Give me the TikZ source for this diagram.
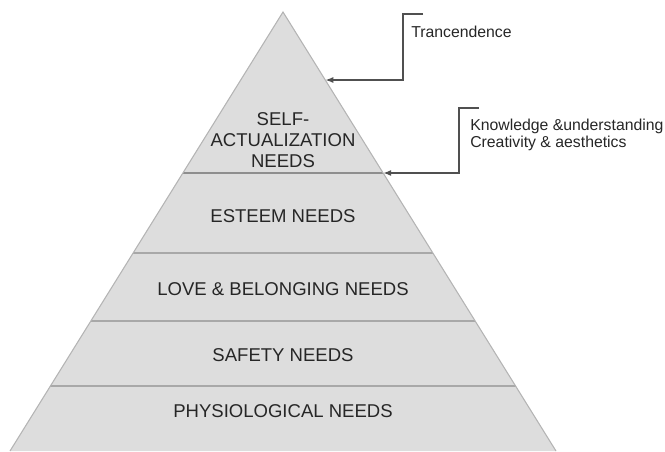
\documentclass[tikz,border=0pt]{standalone}
\usepackage{fontspec}
\setmainfont{Liberation Sans}
\usetikzlibrary{arrows.meta,calc}

\definecolor{pyrfill}{HTML}{DDDDDD}
\definecolor{pyredge}{HTML}{B4B4B4}
\definecolor{bandline}{HTML}{A8A8A8}
\definecolor{topline}{HTML}{8E8E8E}
\definecolor{noteline}{HTML}{505050}
\definecolor{inktext}{HTML}{262626}

\tikzset{
  level/.style={text=inktext, font=\fontsize{13.9}{15.75}\selectfont, align=center, inner sep=0pt},
  note/.style={text=inktext, font=\fontsize{11.85}{12.4}\selectfont, align=left, inner sep=0pt},
  bracket/.style={draw=noteline, line width=1.1pt, -{Latex[length=6pt,width=4.5pt]}}
}

\begin{document}
\begin{tikzpicture}[x=0.75pt,y=-0.75pt]
        \useasboundingbox (0,0) rectangle (665,451);
        \clip (0,0) rectangle (665,451);

        % Pyramid
        \coordinate (apex) at (283,12);
        \coordinate (left) at (10,451);
        \coordinate (right) at (556,451);
        \fill[pyrfill] (apex) -- (left) -- (right) -- cycle;

        % Level borders
        \draw[topline,line width=0.9pt] ($(apex)!{161/439}!(left)$) -- ($(apex)!{161/439}!(right)$);
        \foreach \y in {253,321,386}
          \draw[bandline,line width=0.8pt] ($(apex)!{(\y-12)/439}!(left)$) -- ($(apex)!{(\y-12)/439}!(right)$);
        \draw[pyredge,line width=0.8pt] (left) -- (apex) -- (right);

        % Levels
        \node[level] (self) at (283,140) {SELF-\\ACTUALIZATION\\NEEDS};
        \node[level] (esteem) at (283,216) {ESTEEM NEEDS};
        \node[level] (love) at (283,289) {LOVE \& BELONGING NEEDS};
        \node[level] (safety) at (283,355) {SAFETY NEEDS};
        \node[level] (physio) at (283,411) {PHYSIOLOGICAL NEEDS};

        % Notes on the right
        \node[note,anchor=base west] (trans) at (411,37) {Trancendence};
        \node[note,anchor=north west] (know) at (470,119) {Knowledge \&understanding\\Creativity \& aesthetics};

        % Brackets pointing at the pyramid
        \coordinate (trans hook) at (423,14);
        \coordinate (know hook) at (479,108);
        \coordinate (trans tip) at ($(apex)!{68/439}!(right)$);
        \coordinate (know tip) at ($(apex)!{161/439}!(right)$);
        \draw[bracket] (trans hook) -- ++(-20,0) |- (trans tip);
        \draw[bracket] (know hook) -- ++(-20,0) |- (know tip);
\end{tikzpicture}
\end{document}
